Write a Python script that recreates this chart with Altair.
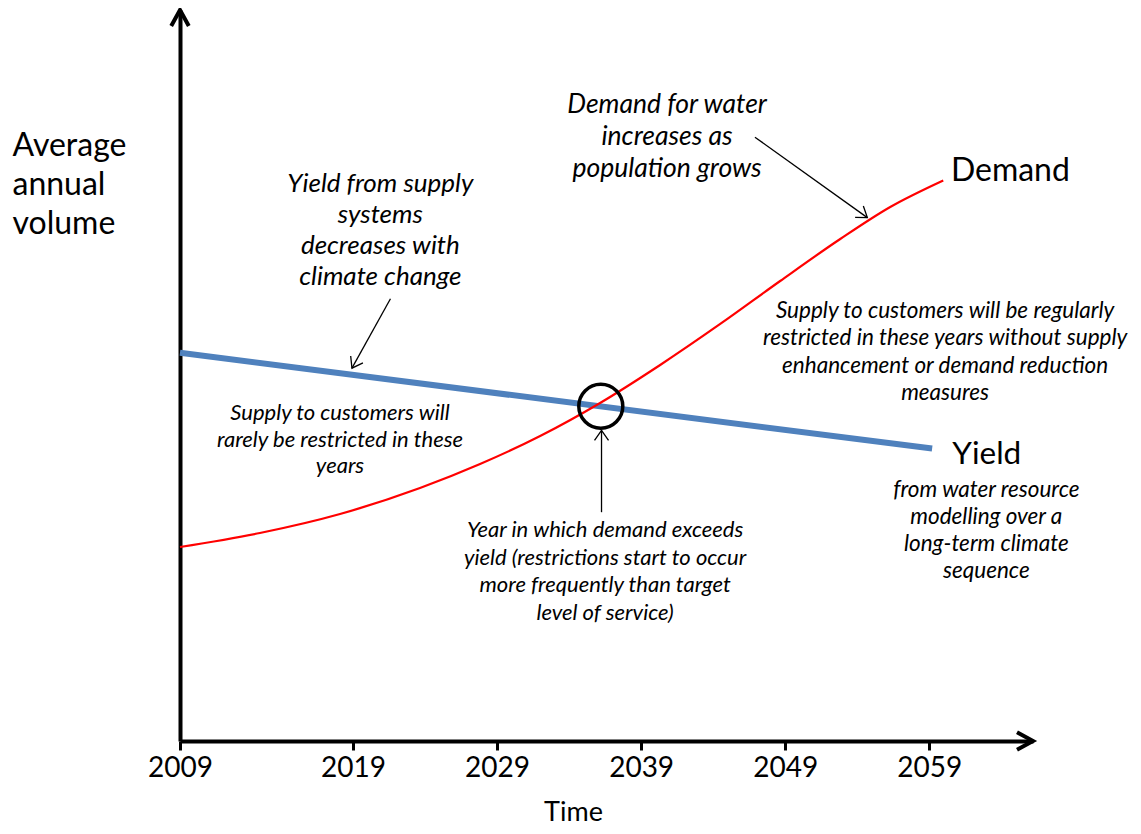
import altair as alt
import pandas as pd

# ---------------- data ----------------
tick_years = [2009, 2019, 2029, 2039, 2049, 2059]
demand_year = [2009.0, 2013.62, 2018.25, 2023.65, 2027.82, 2031.99, 2036.15,
               2040.32, 2044.49, 2048.65, 2052.82, 2056.29, 2059.97]
demand_vol = [26.54, 28.45, 31.05, 34.61, 37.89, 41.72, 46.24,
              51.44, 57.05, 62.93, 68.67, 73.05, 76.68]
yield_year = [2009.0, 2059.2]
yield_vol = [53.1, 40.0]
crossover_year = [2036.2]
crossover_vol = [45.8]

y_title = ["Average", "annual", "volume"]
x_title = "Time"
txt_yield_note = ["Yield from supply", "systems", "decreases with", "climate change"]
txt_demand_note = ["Demand for water", "increases as", "population grows"]
txt_restricted = ["Supply to customers will be regularly",
                  "restricted  in these years without supply",
                  "enhancement or demand reduction", "measures"]
txt_rarely = ["Supply to customers will", "rarely be restricted in these", "years"]
txt_year = ["Year in which demand exceeds", "yield (restrictions start to occur",
            "more frequently than target", "level of service)"]
txt_yield_src = ["from water resource", "modelling over a", "long-term climate", "sequence"]

# ---------------- scales / axes ----------------
X_MIN, X_BREAK, X_MAX = 2009, 2019, 2066.2
Y_MIN, Y_MAX = 0, 100
xs = alt.Scale(domain=[X_MIN, X_BREAK, X_MAX], range=[0, 173, 853], nice=False, zero=False)
ys = alt.Scale(domain=[Y_MIN, Y_MAX], nice=False, zero=False)
FONT = "Lato"

x_axis = alt.Axis(values=tick_years, format="d", title=x_title,
                  domainColor="black", domainWidth=4, tickColor="black", tickWidth=3,
                  tickSize=9, labelFont=FONT, labelFontSize=28, labelColor="black",
                  labelPadding=4, labelFlush=False, labelOverlap=False, grid=False,
                  titleFont=FONT, titleFontSize=27, titleFontWeight="normal",
                  titleColor="black", titleX=393, titleY=79, titleBaseline="alphabetic",
                  titleAlign="center")
y_axis = alt.Axis(title=y_title, titleAngle=0, titleAlign="left", titleBaseline="alphabetic",
                  titleX=-168, titleY=145, titleFont=FONT, titleFontSize=32,
                  titleFontWeight="normal", titleLineHeight=39, titleColor="black",
                  labels=False, ticks=False, grid=False, domainColor="black", domainWidth=4)


def X(field="year"):
    return alt.X(f"{field}:Q", scale=xs, axis=x_axis)


def Y(field="vol"):
    return alt.Y(f"{field}:Q", scale=ys, axis=y_axis)


CHEVRON_AXIS = "M -1 -0.55 L 0 0 L -1 0.55"
CHEVRON_THIN = "M -1 -0.7 L 0 0 L -1 0.7"

layers = []

# curves
layers.append(alt.Chart(pd.DataFrame({"year": yield_year, "vol": yield_vol}))
              .mark_line(color="#4F81BD", strokeWidth=6)
              .encode(x=X(), y=Y()))
layers.append(alt.Chart(pd.DataFrame({"year": demand_year, "vol": demand_vol}))
              .mark_line(color="#FF0000", strokeWidth=2.2, interpolate="monotone")
              .encode(x=X(), y=Y()))

# axis arrowheads
layers.append(alt.Chart(pd.DataFrame({"year": [X_MAX], "vol": [Y_MIN]}))
              .mark_point(shape=CHEVRON_AXIS, size=1024, angle=0, filled=False,
                          strokeWidth=4, color="black", opacity=1)
              .encode(x=X(), y=Y()))
layers.append(alt.Chart(pd.DataFrame({"year": [X_MIN], "vol": [Y_MAX]}))
              .mark_point(shape=CHEVRON_AXIS, size=1024, angle=270, filled=False,
                          strokeWidth=4, color="black", opacity=1)
              .encode(x=X(), y=Y()))

# crossover circle
layers.append(alt.Chart(pd.DataFrame({"year": crossover_year, "vol": crossover_vol}))
              .mark_point(shape="circle", size=1936, filled=False, strokeWidth=3.5,
                          color="black", opacity=1)
              .encode(x=X(), y=Y()))


def arrow(y0, v0, y1, v1, ang):
    df = pd.DataFrame({"year": [y0], "vol": [v0], "year2": [y1], "vol2": [v1]})
    line = alt.Chart(df).mark_rule(color="black", strokeWidth=1.3).encode(
        x=X(), y=Y(), x2="year2:Q", y2="vol2:Q")
    head = alt.Chart(df).mark_point(shape=CHEVRON_THIN, size=400, angle=ang, filled=False,
                                    strokeWidth=1.3, color="black", opacity=1).encode(
        x=X("year2"), y=Y("vol2"))
    return [line, head]


layers += arrow(2021.6, 60.5, 2018.94, 51.0, 119)
layers += arrow(2046.9, 82.6, 2054.7, 71.6, 36)
layers += arrow(2036.25, 31.3, 2036.25, 42.5, 270)


def note(lines, year, vol, size, lh, italic=True, align="center", baseline="alphabetic"):
    df = pd.DataFrame({"year": [year], "vol": [vol], "label": ["\n".join(lines)]})
    return alt.Chart(df).mark_text(font=FONT, fontSize=size,
                                   fontStyle="italic" if italic else "normal",
                                   align=align, baseline=baseline, lineBreak="\n",
                                   lineHeight=lh, color="black").encode(
        x=X(), y=Y(), text="label:N")


layers.append(note(txt_yield_note, 2020.9, 75.1, 26, 31))
layers.append(note(txt_demand_note, 2040.8, 85.9, 26.5, 32))
layers.append(note(txt_restricted, 2060.1, 57.9, 22.5, 27.5))
layers.append(note(txt_rarely, 2018.25, 43.9, 22, 26.5))
layers.append(note(txt_year, 2036.5, 27.9, 22, 27.7))
layers.append(note(txt_yield_src, 2062.96, 33.4, 22.5, 27))
layers.append(note(["Demand"], 2060.5, 78.0, 32, 32, italic=False, align="left", baseline="middle"))
layers.append(note(["Yield"], 2060.6, 37.9, 31.5, 32, italic=False, align="left"))

chart = alt.layer(*layers).properties(
    width=853, height=731,
    padding={"left": 172, "top": 2, "right": 100, "bottom": 85},
    autosize=alt.AutoSizeParams(type="none"),
    background="white",
).configure_view(strokeWidth=0)

chart.save("out.html", embed_options={"renderer": "svg", "actions": False})
